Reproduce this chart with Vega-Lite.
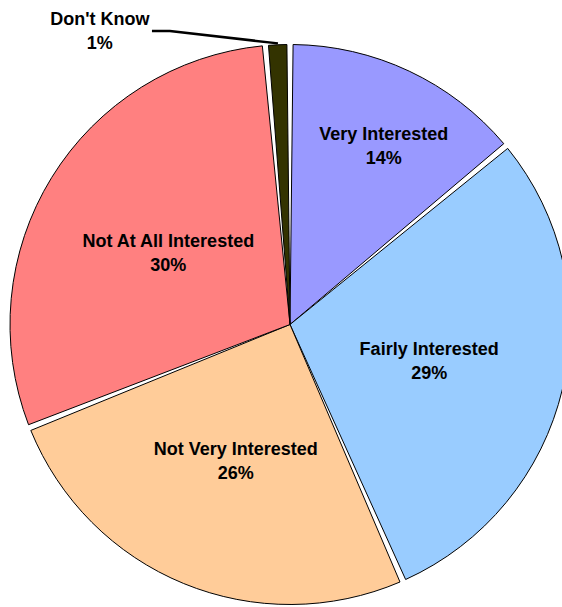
{
  "$schema": "https://vega.github.io/schema/vega-lite/v6.json",
  "autosize": "none",
  "width": 544,
  "height": 565,
  "padding": {"left": 18, "top": 42, "right": 0, "bottom": 0},
  "background": "white",
  "view": {"stroke": null},
  "datasets": {
    "slices": [
      {"category": "Very Interested", "value": 14.0},
      {"category": "Fairly Interested", "value": 29.4},
      {"category": "Not Very Interested", "value": 25.6},
      {"category": "Not At All Interested", "value": 29.6},
      {"category": "Don't Know", "value": 1.4}
    ],
    "leader": [
      {"px": -0.493, "py": 1.048, "k": 0},
      {"px": -0.429, "py": 1.048, "k": 1},
      {"px": -0.043, "py": 1.004, "k": 2}
    ]
  },
  "layer": [
    {
      "data": {"name": "slices"},
      "transform": [{"window": [{"op": "row_number", "as": "idx"}]}],
      "mark": {"type": "arc", "radius": 280, "padAngle": 0.022, "stroke": "black", "strokeWidth": 1},
      "encoding": {
        "theta": {"field": "value", "type": "quantitative", "stack": true},
        "order": {"field": "idx", "type": "quantitative"},
        "color": {
          "field": "category",
          "type": "nominal",
          "scale": {
            "domain": ["Very Interested", "Fairly Interested", "Not Very Interested", "Not At All Interested", "Don't Know"],
            "range": ["#9999FF", "#99CCFF", "#FFCC99", "#FF8080", "#333300"]
          },
          "legend": null
        }
      }
    },
    {
      "data": {"name": "slices"},
      "transform": [
        {"window": [{"op": "row_number", "as": "idx"}]},
        {"calculate": "datum.category + '\\n' + format(datum.value, '.0f') + '%'", "as": "label"}
      ],
      "mark": {
        "type": "text",
        "font": "Liberation Sans",
        "fontWeight": "bold",
        "fontSize": 18,
        "lineBreak": "\n",
        "lineHeight": 24,
        "align": "center",
        "baseline": "middle",
        "dy": -7,
        "color": "black",
        "radius": {"expr": "datum.category == 'Very Interested' ? 205 : (datum.category == \"Don't Know\" ? 353 : 143)"},
        "thetaOffset": {"expr": "datum.category == \"Don't Know\" ? -0.525 : (datum.category == 'Very Interested' ? 0.035 : 0)"}
      },
      "encoding": {
        "theta": {"field": "value", "type": "quantitative", "stack": true},
        "order": {"field": "idx", "type": "quantitative"},
        "text": {"field": "label", "type": "nominal"}
      }
    },
    {
      "data": {"name": "leader"},
      "mark": {"type": "line", "color": "black", "strokeWidth": 2.5},
      "encoding": {
        "x": {"field": "px", "type": "quantitative", "scale": {"domain": [-0.9714, 0.9714], "nice": false, "zero": false}, "axis": null},
        "y": {"field": "py", "type": "quantitative", "scale": {"domain": [-1.0089, 1.0089], "nice": false, "zero": false}, "axis": null},
        "order": {"field": "k", "type": "quantitative"}
      }
    }
  ]
}
